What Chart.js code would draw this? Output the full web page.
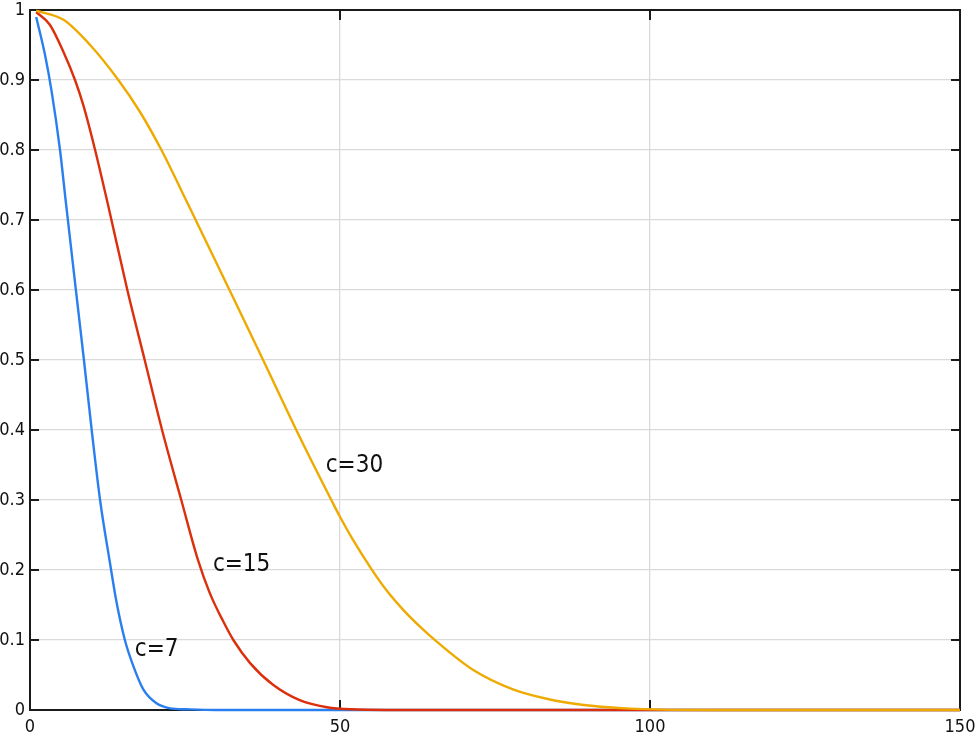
<!DOCTYPE html>
<html>
<head>
<meta charset="utf-8">
<script src="https://cdn.jsdelivr.net/npm/chart.js@4"></script>
<style>
  html, body { margin: 0; padding: 0; background: #fff; }
  #wrap { width: 975px; height: 741px; }
</style>
</head>
<body>
<div id="wrap"><canvas id="chart" width="975" height="741"></canvas></div>
<script>
// Values (x, y pairs)
const c7X  = [1, 2.42, 3.5, 4.84, 5.8, 7.4, 8.7, 9.95, 11.3, 12.9, 14, 15.3, 16.7, 18.3, 20.4, 22.6, 25.3, 30, 150];
const c7Y  = [0.99, 0.936, 0.883, 0.8, 0.724, 0.6, 0.5, 0.4, 0.3, 0.21, 0.152, 0.1, 0.062, 0.029, 0.0095, 0.0024, 0.001, 0, 0];

const c15X = [1, 3.2, 5.4, 7.26, 8.6, 10.5, 12.6, 15.7, 18.5, 21.3, 24.4, 27.1, 29, 31.2, 32.8, 35.5, 39.2, 43.5, 47.9, 52, 60, 150];
const c15Y = [0.997, 0.979, 0.94, 0.9, 0.864, 0.8, 0.721, 0.6, 0.5, 0.4, 0.3, 0.214, 0.167, 0.126, 0.1, 0.067, 0.036, 0.014, 0.004, 0.001, 0, 0];

const c30X = [1, 5.4, 9.7, 14.25, 17.7, 21.2, 25.3, 31.9, 37.6, 43.5, 48.6, 50, 52.1, 55.1, 57.5, 60.2, 62.9, 65.6, 71.5, 78, 84.4, 90.9, 96.8, 102, 110, 150];
const c30Y = [0.999, 0.986, 0.95, 0.9, 0.855, 0.8, 0.726, 0.605, 0.5, 0.39, 0.3, 0.276, 0.243, 0.201, 0.171, 0.143, 0.119, 0.0976, 0.057, 0.029, 0.014, 0.0057, 0.002, 0.0005, 0, 0];

const seriesNames  = ['c=7', 'c=15', 'c=30'];
const seriesColors = ['#2a7ff0', '#dc2f0c', '#eeaa00'];

// where each curve's name sits, in data units
const labelX = [16.9, 29.5, 47.7];
const labelY = [0.086, 0.207, 0.349];

const xTicks = [0, 50, 100, 150];
const yTicks = [0, 0.1, 0.2, 0.3, 0.4, 0.5, 0.6, 0.7, 0.8, 0.9, 1];

const FONT = '"DejaVu Sans Condensed", "DejaVu Sans", sans-serif';

function toPoints(xs, ys) {
  return xs.map((x, i) => ({ x: x, y: ys[i] }));
}

// frame + inward tick marks under the curves, curve names on top
const decorPlugin = {
  id: 'decor',
  beforeDatasetsDraw(chart) {
    const ctx = chart.ctx;
    const xs = chart.scales.x;
    const ys = chart.scales.y;
    const a = chart.chartArea;
    ctx.save();
    ctx.strokeStyle = '#1a1a1a';
    ctx.lineWidth = 2;
    ctx.beginPath();
    yTicks.forEach(v => {
      const py = ys.getPixelForValue(v);
      ctx.moveTo(a.left, py); ctx.lineTo(a.left + 9, py);
      ctx.moveTo(a.right, py); ctx.lineTo(a.right - 9, py);
    });
    xTicks.forEach(v => {
      const px = xs.getPixelForValue(v);
      ctx.moveTo(px, a.bottom); ctx.lineTo(px, a.bottom - 10);
      ctx.moveTo(px, a.top); ctx.lineTo(px, a.top + 10);
    });
    ctx.stroke();
    ctx.strokeRect(a.left, a.top, a.right - a.left, a.bottom - a.top);
    ctx.restore();
  },
  afterDatasetsDraw(chart) {
    const ctx = chart.ctx;
    const xs = chart.scales.x;
    const ys = chart.scales.y;
    ctx.save();
    ctx.fillStyle = '#111';
    ctx.font = '24px ' + FONT;
    ctx.textAlign = 'left';
    ctx.textBaseline = 'middle';
    seriesNames.forEach((name, i) => {
      ctx.fillText(name, xs.getPixelForValue(labelX[i]), ys.getPixelForValue(labelY[i]));
    });
    ctx.restore();
  }
};

const ctx = document.getElementById('chart').getContext('2d');
new Chart(ctx, {
  type: 'line',
  data: {
    datasets: [
      { label: seriesNames[0], data: toPoints(c7X, c7Y), order: 2 },
      { label: seriesNames[1], data: toPoints(c15X, c15Y), order: 1 },
      { label: seriesNames[2], data: toPoints(c30X, c30Y), order: 0 }
    ].map((d, i) => Object.assign(d, {
      borderColor: seriesColors[i],
      borderWidth: 2.4,
      pointRadius: 0,
      fill: false,
      clip: 4,
      cubicInterpolationMode: 'monotone'
    }))
  },
  options: {
    responsive: false,
    animation: false,
    layout: { padding: { top: 10, right: 15, left: 0, bottom: 0 } },
    plugins: {
      legend: { display: false },
      tooltip: { enabled: false }
    },
    scales: {
      x: {
        type: 'linear',
        min: 0,
        max: 150,
        afterBuildTicks: s => { s.ticks = xTicks.map(v => ({ value: v })); },
        afterFit: s => {
          s.height = 31;
          s.paddingLeft = 0;
          s.paddingRight = 0;
        },
        grid: { color: '#dadada', lineWidth: 1.3, drawTicks: false },
        border: { display: false },
        ticks: {
          color: '#111',
          padding: 7,
          maxRotation: 0,
          font: { family: FONT, size: 18 }
        }
      },
      y: {
        type: 'linear',
        min: 0,
        max: 1,
        afterBuildTicks: s => { s.ticks = yTicks.map(v => ({ value: v })); },
        afterFit: s => {
          s.width = 30;
          s.paddingTop = 0;
          s.paddingBottom = 0;
        },
        grid: { color: '#dadada', lineWidth: 1.3, drawTicks: false },
        border: { display: false },
        ticks: {
          color: '#111',
          padding: 5,
          font: { family: FONT, size: 18 },
          callback: v => String(Math.round(v * 10) / 10)
        }
      }
    }
  },
  plugins: [decorPlugin]
});
</script>
</body>
</html>
